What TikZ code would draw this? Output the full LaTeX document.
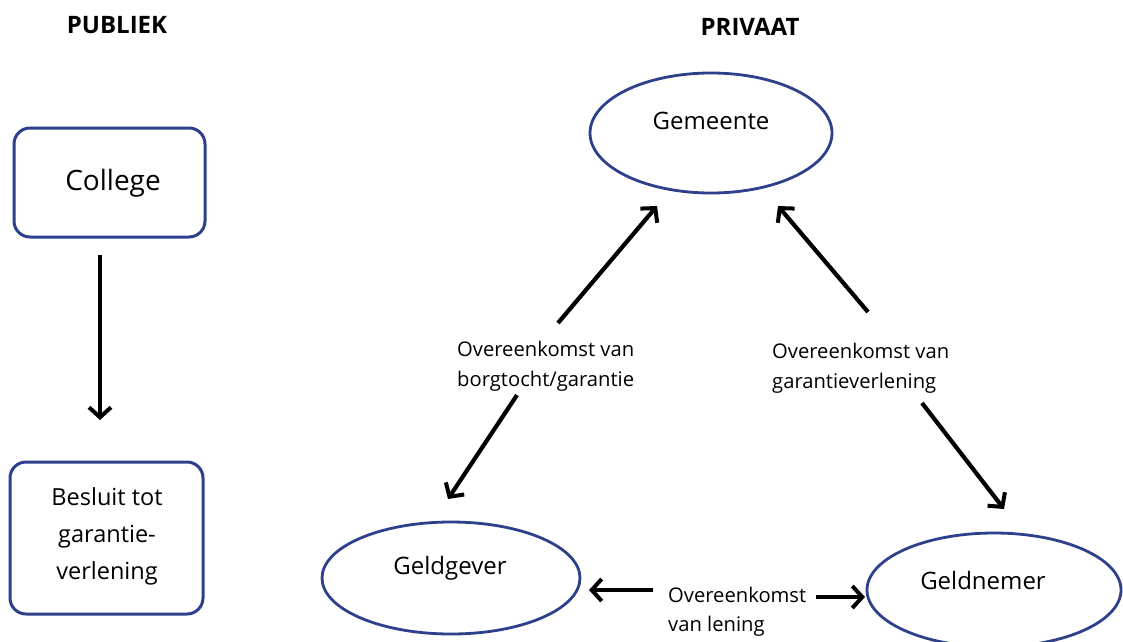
\documentclass[tikz,border=0pt]{standalone}
\usepackage{fontspec}
\setmainfont{Open Sans}
\usetikzlibrary{arrows.meta,shapes.geometric}
\definecolor{edgeblue}{HTML}{2E3F8C}
\begin{document}
\begin{tikzpicture}[x=1pt,y=-1pt,
  boxnode/.style={draw=edgeblue,line width=3pt,rounded corners=16pt,inner sep=0pt},
  ellnode/.style={draw=edgeblue,line width=2.8pt,ellipse,inner sep=0pt},
  txt/.style={inner sep=0pt},
  heading/.style={inner sep=0pt,font=\fontsize{24}{28}\selectfont\bfseries},
  lbl/.style={inner sep=0pt,align=left,font=\fontsize{20.2}{30}\selectfont},
  conn/.style={line width=4.2pt,-{Straight Barb[length=10pt,width=22pt,line width=4pt]}}
]
\useasboundingbox (0,0) rectangle (1123,641);
\clip (0,0) rectangle (1123,641);
% headings
\node[heading] (publiek) at (117,25) {PUBLIEK};
\node[heading] (privaat) at (750,27) {PRIVAAT};
% public side
\node[boxnode,minimum width=191pt,minimum height=109pt] (college) at (109.5,182.5) {};
\node[txt,font=\fontsize{28}{32}\selectfont] (collegetxt) at (113,183) {College};
\node[boxnode,minimum width=193pt,minimum height=152pt] (besluit) at (106.5,538) {};
\node[txt,align=center,font=\fontsize{23.5}{37}\selectfont] (besluittxt) at (107,536) {Besluit tot\\garantie-\\verlening};
\coordinate (c1s) at (100,255);
\coordinate (c1e) at (100,420);
\draw[conn] (c1s) -- (c1e);
% private side
\node[ellnode,minimum width=242pt,minimum height=120pt] (gemeente) at (711,133) {};
\node[txt,font=\fontsize{24}{28}\selectfont] (gemeentetxt) at (711,121) {Gemeente};
\node[ellnode,minimum width=258pt,minimum height=112pt] (geldgever) at (451,578) {};
\node[txt,font=\fontsize{24}{28}\selectfont] (geldgevertxt) at (450,568) {Geldgever};
\node[ellnode,minimum width=254pt,minimum height=114pt] (geldnemer) at (994,590) {};
\node[txt,font=\fontsize{24}{28}\selectfont] (geldnemertxt) at (983,580) {Geldnemer};
% labels
\node[lbl,anchor=west] (l1) at (457,366) {Overeenkomst van\\borgtocht/garantie};
\node[lbl,anchor=west] (l2) at (772,368) {Overeenkomst van\\garantieverlening};
\node[lbl,anchor=west,font=\fontsize{20.2}{29}\selectfont] (l3) at (668,612) {Overeenkomst\\van lening};
% connectors
\coordinate (a1s) at (558,323);
\coordinate (a1e) at (657,206);
\draw[conn] (a1s) -- (a1e);
\coordinate (a2s) at (868,312);
\coordinate (a2e) at (778,206);
\draw[conn] (a2s) -- (a2e);
\coordinate (a3s) at (517,395);
\coordinate (a3e) at (448,499);
\draw[conn] (a3s) -- (a3e);
\coordinate (a4s) at (922,403);
\coordinate (a4e) at (1004,509);
\draw[conn] (a4s) -- (a4e);
\coordinate (a5s) at (653,590);
\coordinate (a5e) at (589,590);
\draw[conn] (a5s) -- (a5e);
\coordinate (a6s) at (816,597);
\coordinate (a6e) at (865,597);
\draw[conn] (a6s) -- (a6e);
\end{tikzpicture}
\end{document}
